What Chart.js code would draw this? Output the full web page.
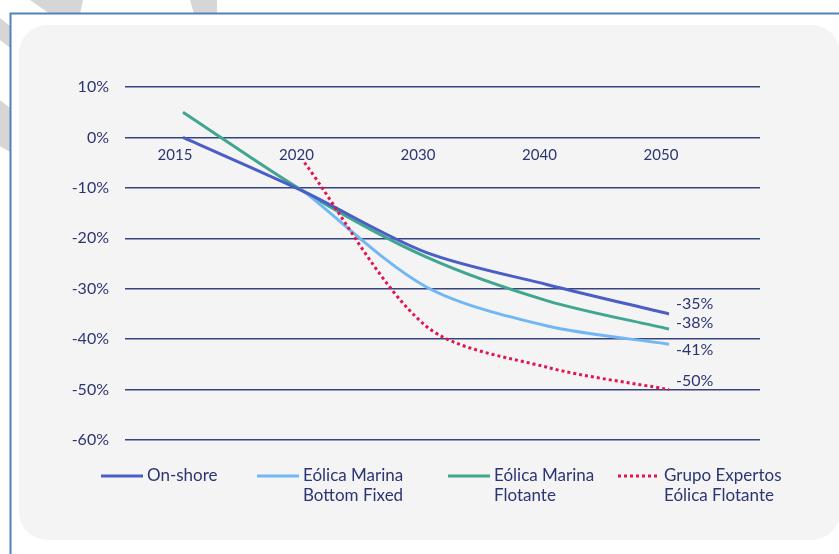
<!DOCTYPE html>
<html>
<head>
<meta charset="utf-8">
<script src="https://cdn.jsdelivr.net/npm/chart.js@4.4.1/dist/chart.umd.min.js"></script>
<style>
  html, body { margin: 0; padding: 0; background: #ffffff; }
  #wrap { position: relative; width: 839px; height: 554px; }
  canvas { display: block; }
</style>
</head>
<body>
<div id="wrap"><canvas id="chart" width="839" height="554"></canvas></div>
<script>
// Cost reduction relative to 2015, per technology
const years = ['2015', '2020', '2030', '2040', '2050'];
const onshore = [0, -10.8, -22.8, -29.2, -35];
const bottomFixed = [null, -10.8, -29.6, -37.4, -41];
const floating = [5, -10.8, -23.7, -32.4, -38];
const expertGroup = [null, -5, -37.4, -45.6, -50];
const seriesNames = [
  ['On-shore'],
  ['Eólica Marina', 'Bottom Fixed'],
  ['Eólica Marina', 'Flotante'],
  ['Grupo Expertos', 'Eólica Flotante']
];
const yTicks = [10, 0, -10, -20, -30, -40, -50, -60];

const TEXT = '#2c3574';
const FONT = 'Lato, "Open Sans", sans-serif';
const colors = ['#4b5ec6', '#72b7f5', '#3fa68f', '#e0174f'];

function toPoints(values) {
  const pts = [];
  values.forEach((v, i) => { if (v !== null) pts.push({ x: i, y: v }); });
  return pts;
}

const allSeries = [onshore, bottomFixed, floating, expertGroup];

// Page backdrop: watermark fragments, frame and rounded panel
const backdrop = {
  id: 'backdrop',
  beforeDraw(chart) {
    const ctx = chart.ctx;
    ctx.save();
    ctx.fillStyle = '#ffffff';
    ctx.fillRect(0, 0, chart.width, chart.height);
    ctx.fillStyle = '#d6d6d6';
    const shards = [
      [[30, 0], [83, 0], [80, 14], [50, 14]],
      [[190, 0], [217, 0], [217, 14], [194, 14]],
      [[0, 18], [10, 26], [10, 48], [0, 40]],
      [[0, 100], [10, 108], [10, 152], [0, 146]]
    ];
    shards.forEach(s => {
      ctx.beginPath();
      ctx.moveTo(s[0][0], s[0][1]);
      for (let i = 1; i < s.length; i++) ctx.lineTo(s[i][0], s[i][1]);
      ctx.closePath();
      ctx.fill();
    });
    ctx.fillStyle = '#ffffff';
    ctx.fillRect(10, 13, chart.width, chart.height);
    // frame
    ctx.strokeStyle = '#4f81bd';
    ctx.lineWidth = 2;
    ctx.beginPath();
    ctx.moveTo(10.5, chart.height);
    ctx.lineTo(10.5, 13.5);
    ctx.lineTo(chart.width, 13.5);
    ctx.stroke();
    // panel
    ctx.fillStyle = '#f4f4f4';
    ctx.beginPath();
    ctx.roundRect(19, 25, 821, 515, 28);
    ctx.fill();
    ctx.restore();
  }
};

// Year labels, end-value labels and two-line legend
const annotations = {
  id: 'annotations',
  afterDraw(chart) {
    const ctx = chart.ctx;
    const xs = chart.scales.x, ys = chart.scales.y;
    ctx.save();
    ctx.fillStyle = TEXT;
    ctx.textBaseline = 'middle';

    ctx.font = '15px ' + FONT;
    ctx.textAlign = 'center';
    years.forEach((yr, i) => {
      ctx.fillText(yr, xs.getPixelForValue(i) - 8, ys.getPixelForValue(0) + 18);
    });

    ctx.font = '16px ' + FONT;
    ctx.textAlign = 'left';
    const dy = [-10, 6, -6, -9];
    allSeries.forEach((vals, k) => {
      const last = vals[vals.length - 1];
      const px = xs.getPixelForValue(vals.length - 1);
      const py = ys.getPixelForValue(last);
      ctx.fillText(Math.round(last) + '%', px + 7, py + dy[k]);
    });

    ctx.font = '17px ' + FONT;
    const legendX = [101, 257, 448, 618];
    const legendY = 476;
    allSeries.forEach((vals, k) => {
      const x0 = legendX[k];
      ctx.strokeStyle = colors[k];
      ctx.lineWidth = 3;
      ctx.setLineDash(k === 3 ? [3, 3] : []);
      ctx.beginPath();
      ctx.moveTo(x0, legendY);
      ctx.lineTo(x0 + 42, legendY);
      ctx.stroke();
      ctx.setLineDash([]);
      seriesNames[k].forEach((line, j) => {
        ctx.fillText(line, x0 + 46, legendY + j * 20);
      });
    });
    ctx.restore();
  }
};

new Chart(document.getElementById('chart'), {
  type: 'line',
  data: {
    datasets: allSeries.map((vals, k) => ({
      label: seriesNames[k].join(' '),
      data: toPoints(vals),
      borderColor: colors[k],
      borderWidth: 3,
      borderDash: k === 3 ? [3, 3] : [],
      borderCapStyle: 'butt',
      pointRadius: 0,
      fill: false,
      tension: 0.3,
      order: [1, 2, 3, 0][k]
    }))
  },
  options: {
    responsive: false,
    animation: false,
    devicePixelRatio: 1,
    layout: { padding: { left: 25, top: 87, right: 79, bottom: 114 } },
    plugins: { legend: { display: false }, tooltip: { enabled: false } },
    scales: {
      x: {
        type: 'linear',
        min: -0.477,
        max: 4.749,
        display: false
      },
      y: {
        min: -60,
        max: 10,
        afterFit(scale) { scale.width = 100; },
        afterBuildTicks(scale) { scale.ticks = yTicks.map(v => ({ value: v })); },
        ticks: {
          callback: v => v + '%',
          color: TEXT,
          font: { family: FONT, size: 16 },
          padding: 16
        },
        grid: { color: '#34447f', lineWidth: 1.5, drawTicks: false },
        border: { display: false }
      }
    }
  },
  plugins: [backdrop, annotations]
});
</script>
</body>
</html>
